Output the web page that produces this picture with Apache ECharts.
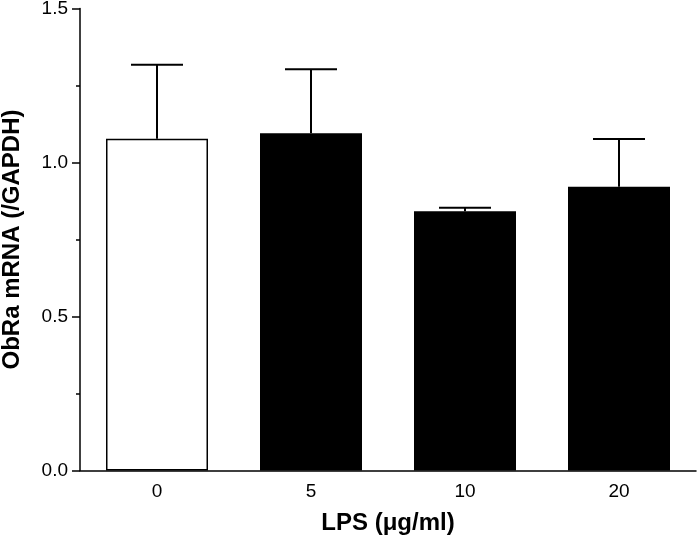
<!DOCTYPE html>
<html>
<head>
<meta charset="utf-8">
<script src="https://cdn.jsdelivr.net/npm/echarts@6/dist/echarts.min.js"></script>
<style>html,body{margin:0;padding:0;background:#fff;}#c{width:697px;height:539px;}</style>
</head>
<body>
<div id="c"></div>
<script>
const categories = ['0', '5', '10', '20'];
const means = [1.077, 1.095, 0.842, 0.921];
const errUpper = [1.317, 1.303, 0.853, 1.076];
const barColors = ['#ffffff', '#000000', '#000000', '#000000'];
const yTicks = [0, 0.5, 1.0, 1.5];

const FONT = '"Liberation Sans", Arial, sans-serif';
const chart = echarts.init(document.getElementById('c'));
chart.setOption({
  animation: false,
  backgroundColor: '#fff',
  grid: { left: 80, right: 1, top: 8.5, bottom: 68.5, outerBoundsMode: 'none', containLabel: false },
  xAxis: {
    type: 'category',
    data: categories,
    axisLine: { lineStyle: { color: '#000', width: 1.5 } },
    axisTick: { show: false },
    axisLabel: { color: '#000', fontSize: 19, fontFamily: FONT, margin: 12 },
    name: 'LPS (\u03bcg/ml)',
    nameLocation: 'middle',
    nameGap: 41,
    nameTextStyle: { color: '#000', fontSize: 24, fontWeight: 'bold', fontFamily: FONT }
  },
  yAxis: {
    type: 'value',
    min: yTicks[0],
    max: yTicks[yTicks.length - 1],
    interval: 0.5,
    axisLine: { show: true, lineStyle: { color: '#000', width: 1.5 } },
    axisTick: { show: true, length: 8, lineStyle: { color: '#000', width: 1.5 } },
    minorTick: { show: true, splitNumber: 2, length: 4, lineStyle: { color: '#000', width: 1.5 } },
    splitLine: { show: false },
    axisLabel: { color: '#000', fontSize: 19, fontFamily: FONT, margin: 12, formatter: v => v.toFixed(1) },
    name: 'ObRa mRNA (/GAPDH)',
    nameLocation: 'middle',
    nameGap: 56,
    nameTextStyle: { color: '#000', fontSize: 24, fontWeight: 'bold', fontFamily: FONT }
  },
  series: [
    {
      type: 'bar',
      barWidth: 102,
      data: means.map((v, i) => ({
        value: v,
        itemStyle: { color: barColors[i], borderColor: '#000', borderWidth: 1.5 }
      })),
      z: 2
    },
    {
      type: 'custom',
      z: 3,
      data: means.map((v, i) => [i, v, errUpper[i]]),
      renderItem: function (params, api) {
        const x = api.value(0);
        const lo = api.coord([x, api.value(1)]);
        const hi = api.coord([x, api.value(2)]);
        const half = 26;
        const style = { stroke: '#000', lineWidth: 2 };
        return {
          type: 'group',
          children: [
            { type: 'line', shape: { x1: lo[0], y1: lo[1], x2: hi[0], y2: hi[1] }, style: style },
            { type: 'line', shape: { x1: hi[0] - half, y1: hi[1], x2: hi[0] + half, y2: hi[1] }, style: style }
          ]
        };
      }
    }
  ]
});
</script>
</body>
</html>
